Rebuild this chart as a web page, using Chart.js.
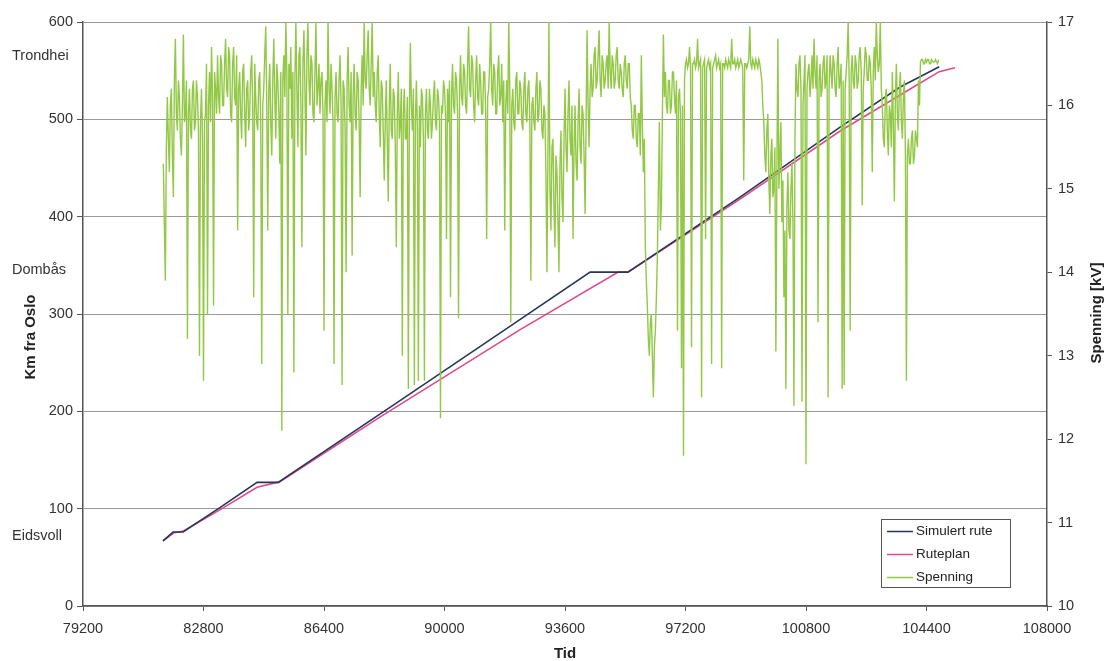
<!DOCTYPE html>
<html>
<head>
<meta charset="utf-8">
<script src="https://cdn.jsdelivr.net/npm/chart.js@4.4.1/dist/chart.umd.min.js"></script>
<style>
  html, body { margin: 0; padding: 0; background: #fff; }
  #wrap { width: 1107px; height: 661px; }
</style>
</head>
<body>
<div id="wrap"><canvas id="rute"></canvas></div>
<script>
// Tid (s) og km fra Oslo
const simulertRute = [
  [81590, 67], [81890, 76], [82190, 76], [83290, 101], [84400, 127], [85030, 127],
  [88670, 211], [91810, 284], [94350, 343], [95480, 343], [98830, 420],
  [101820, 492], [103600, 533], [104780, 554]
];
const ruteplan = [
  [81590, 67], [81900, 75], [82200, 77], [83300, 99], [84400, 122], [85000, 127],
  [85050, 127], [88070, 194], [92260, 284], [95190, 343], [95480, 343],
  [98830, 418], [101820, 488], [104000, 533], [104780, 549], [105250, 553]
];
// Tid (s) og spenning (kV)
const spenning = [
  [81600,15.3],[81630,14.6],[81660,13.9],[81690,15.5],[81720,16.1],[81750,15.6],[81780,15.2],[81810,16.0],[81840,16.2],[81870,15.4],[81900,14.9],[81930,16.3],[81960,16.8],[81990,15.9],[82020,15.7],[82050,16.3],[82080,16.1],[82110,15.6],[82140,15.4],[82170,16.0],
  [82200,16.85],[82230,15.8],[82260,15.9],[82290,16.3],[82320,13.2],[82350,15.9],[82380,16.2],[82410,15.7],[82440,15.6],[82470,16.2],[82500,16.3],[82530,15.7],[82560,15.8],[82590,16.3],[82620,16.1],[82650,15.7],[82680,13.0],[82710,15.8],[82740,16.2],[82770,15.6],
  [82800,12.7],[82830,15.8],[82860,15.9],[82890,16.5],[82920,13.5],[82950,16.0],[82980,16.4],[83010,15.8],[83040,16.7],[83070,16.1],[83100,13.6],[83130,16.4],[83160,16.2],[83190,15.9],[83220,16.6],[83250,16.1],[83280,15.9],[83310,16.6],[83340,16.5],[83370,16.0],
  [83400,16.0],[83430,16.5],[83460,16.8],[83490,16.2],[83520,16.1],[83550,16.7],[83580,16.6],[83610,15.9],[83640,15.8],[83670,16.5],[83700,16.7],[83730,16.1],[83760,16.0],[83790,16.6],[83820,14.5],[83850,16.2],[83880,16.4],[83910,15.9],[83940,15.6],[83970,16.4],
  [84000,16.5],[84030,15.9],[84060,15.5],[84090,16.2],[84120,16.3],[84150,15.7],[84180,15.9],[84210,16.4],[84240,16.6],[84270,16.0],[84300,13.7],[84330,16.5],[84360,16.1],[84390,15.8],[84420,15.7],[84450,16.3],[84480,16.4],[84510,15.8],[84540,12.9],[84570,16.0],
  [84600,16.2],[84630,16.6],[84660,16.95],[84690,16.0],[84720,14.5],[84750,16.2],[84780,16.5],[84810,15.8],[84840,15.4],[84870,16.3],[84900,16.8],[84930,16.1],[84960,15.6],[84990,16.5],[85020,16.3],[85050,15.9],[85080,15.3],[85110,16.4],[85140,12.1],[85170,16.3],
  [85200,16.6],[85230,16.1],[85260,17.0],[85290,16.4],[85320,13.5],[85350,16.5],[85380,16.2],[85410,16.7],[85440,15.6],[85470,16.4],[85500,12.8],[85530,16.3],[85560,17.0],[85590,16.2],[85620,15.5],[85650,16.6],[85680,16.7],[85710,16.0],[85740,14.3],[85770,16.5],
  [85800,16.9],[85830,16.2],[85860,15.4],[85890,16.6],[85920,17.0],[85950,16.3],[85980,16.0],[86010,16.6],[86040,16.5],[86070,15.9],[86100,15.8],[86130,16.4],[86160,17.0],[86190,16.0],[86220,16.2],[86250,16.5],[86280,15.9],[86310,16.3],[86340,16.4],[86370,15.9],
  [86400,13.3],[86430,16.0],[86460,16.3],[86490,15.8],[86520,17.0],[86550,16.2],[86580,15.9],[86610,16.5],[86640,16.2],[86670,15.8],[86700,12.9],[86730,16.1],[86760,16.4],[86790,15.9],[86820,15.8],[86850,16.3],[86880,16.6],[86910,16.0],[86940,12.65],[86970,16.3],
  [87000,16.2],[87030,15.7],[87060,14.0],[87090,16.3],[87120,16.7],[87150,16.0],[87180,15.8],[87210,16.4],[87240,14.2],[87270,16.1],[87300,16.5],[87330,15.9],[87360,15.7],[87390,16.4],[87420,16.3],[87450,15.8],[87480,14.9],[87510,16.2],[87540,16.6],[87570,16.0],
  [87600,17.0],[87630,16.3],[87660,16.2],[87690,16.6],[87720,16.9],[87750,16.2],[87780,16.0],[87810,16.5],[87840,17.0],[87870,16.1],[87900,16.4],[87930,16.0],[87960,15.8],[87990,16.4],[88020,16.6],[88050,15.9],[88080,15.5],[88110,16.3],[88140,16.2],[88170,15.7],
  [88200,15.1],[88230,15.8],[88260,16.3],[88290,15.6],[88320,14.85],[88350,16.0],[88380,16.5],[88410,15.7],[88440,15.6],[88470,16.2],[88500,16.1],[88530,15.5],[88560,14.3],[88590,15.9],[88620,16.4],[88650,15.6],[88680,15.8],[88710,16.2],[88740,13.0],[88770,15.9],
  [88800,16.2],[88830,15.6],[88860,15.6],[88890,16.1],[88920,12.6],[88950,15.9],[88980,16.75],[89010,16.0],[89040,15.7],[89070,16.2],[89100,12.65],[89130,15.8],[89160,16.3],[89190,15.7],[89220,12.7],[89250,16.0],[89280,15.5],[89310,16.2],[89340,16.1],[89370,15.6],
  [89400,12.7],[89430,15.9],[89460,16.2],[89490,15.7],[89520,15.6],[89550,16.2],[89580,16.0],[89610,15.6],[89640,15.8],[89670,16.1],[89700,16.3],[89730,15.8],[89760,15.7],[89790,16.2],[89820,16.1],[89850,15.8],[89880,12.25],[89910,16.0],[89940,15.9],[89970,16.3],
  [90000,16.2],[90030,15.9],[90060,14.4],[90090,16.2],[90120,15.8],[90150,16.3],[90180,13.7],[90210,16.1],[90240,16.5],[90270,16.0],[90300,15.9],[90330,16.4],[90360,16.3],[90390,15.9],[90420,13.45],[90450,16.2],[90480,16.6],[90510,16.1],[90540,16.0],[90570,16.5],
  [90600,16.4],[90630,16.0],[90660,15.9],[90690,16.5],[90720,16.95],[90750,16.2],[90780,16.1],[90810,16.6],[90840,16.5],[90870,16.0],[90900,15.8],[90930,16.3],[90960,16.6],[90990,16.1],[91020,16.0],[91050,16.5],[91080,16.3],[91110,15.9],[91140,15.9],[91170,16.4],
  [91200,16.4],[91230,15.9],[91260,14.4],[91290,16.1],[91320,16.2],[91350,16.5],[91380,17.0],[91410,16.2],[91440,16.0],[91470,16.5],[91500,16.4],[91530,15.9],[91560,15.9],[91590,16.4],[91620,16.6],[91650,16.0],[91680,16.1],[91710,16.5],[91740,15.8],[91770,16.3],
  [91800,14.5],[91830,16.0],[91860,16.3],[91890,15.9],[91920,17.0],[91950,16.2],[91980,13.4],[92010,16.0],[92040,16.2],[92070,15.8],[92100,15.7],[92130,16.3],[92160,16.4],[92190,15.9],[92220,15.9],[92250,16.3],[92280,16.2],[92310,15.8],[92340,15.7],[92370,16.2],
  [92400,16.4],[92430,15.9],[92460,15.8],[92490,16.2],[92520,16.3],[92550,15.8],[92580,13.9],[92610,16.0],[92640,16.1],[92670,15.8],[92700,15.7],[92730,16.2],[92760,16.4],[92790,15.8],[92820,15.9],[92850,16.3],[92880,16.2],[92910,15.7],[92940,15.6],[92970,16.0],
  [93000,15.9],[93030,15.2],[93060,14.0],[93090,15.4],[93120,17.0],[93150,15.0],[93180,14.5],[93210,15.5],[93240,15.6],[93270,14.8],[93300,14.3],[93330,15.4],[93360,15.2],[93390,14.6],[93420,14.0],[93450,15.3],[93480,15.7],[93510,14.9],[93540,14.6],[93570,15.6],
  [93600,16.2],[93630,15.5],[93660,15.2],[93690,15.9],[93720,16.3],[93750,15.6],[93780,15.4],[93810,16.0],[93840,14.4],[93870,15.5],[93900,16.0],[93930,15.3],[93960,15.1],[93990,15.8],[94020,16.2],[94050,15.5],[94080,15.3],[94110,16.0],[94140,15.9],[94170,15.4],
  [94200,14.7],[94230,15.8],[94260,16.9],[94290,16.0],[94320,15.5],[94350,16.2],[94380,16.5],[94410,16.1],[94440,16.2],[94470,16.6],[94500,16.7],[94530,16.2],[94560,16.3],[94590,16.6],[94620,16.9],[94650,16.3],[94680,16.1],[94710,16.6],[94740,16.5],[94770,16.2],
  [94800,16.3],[94830,16.5],[94860,16.6],[94890,16.2],[94920,17.0],[94950,16.4],[94980,16.2],[95010,16.6],[95040,16.5],[95070,16.2],[95100,16.3],[95130,16.6],[95160,16.7],[95190,16.3],[95220,16.2],[95250,16.5],[95280,16.4],[95310,16.2],[95340,16.1],[95370,16.5],
  [95400,16.6],[95430,16.3],[95460,16.2],[95490,16.5],[95520,16.5],[95550,16.1],[95580,16.0],[95610,15.7],[95640,15.6],[95670,16.0],[95700,16.0],[95730,15.6],[95760,15.5],[95790,15.9],[95820,15.9],[95850,15.4],[95880,16.6],[95910,15.8],[95940,15.2],[95970,15.6],
  [96000,14.3],[96030,13.9],[96060,13.6],[96090,13.2],[96120,13.0],[96150,13.4],[96180,13.5],[96210,13.0],[96240,12.5],[96270,13.1],[96300,13.3],[96330,13.7],[96360,14.2],[96390,15.0],[96420,15.8],[96450,14.5],[96480,14.8],[96510,15.9],[96540,16.85],[96570,16.1],
  [96600,16.4],[96630,16.0],[96660,15.9],[96690,16.3],[96720,16.3],[96750,15.9],[96780,16.0],[96810,16.4],[96840,16.4],[96870,16.1],[96900,15.9],[96930,16.3],[96960,13.3],[96990,16.1],[97020,16.2],[97050,15.9],[97080,12.85],[97110,16.0],[97140,11.8],[97170,16.3],
  [97200,16.5],[97230,16.55],[97260,16.45],[97290,16.5],[97320,16.7],[97350,16.45],[97380,13.1],[97410,16.5],[97440,16.5],[97470,16.55],[97500,16.45],[97530,16.5],[97560,16.8],[97590,16.45],[97620,16.5],[97650,16.55],[97680,12.5],[97710,16.45],[97740,16.5],[97770,16.55],
  [97800,14.4],[97830,16.45],[97860,16.5],[97890,16.55],[97920,16.45],[97950,16.5],[97980,12.9],[98010,16.45],[98040,16.5],[98070,16.55],[98100,16.6],[98130,16.45],[98160,16.5],[98190,16.55],[98220,16.45],[98250,16.5],[98280,12.85],[98310,16.5],[98340,16.5],[98370,16.45],
  [98400,16.55],[98430,16.5],[98460,16.45],[98490,16.55],[98520,16.5],[98550,16.45],[98580,16.8],[98610,16.5],[98640,16.5],[98670,16.55],[98700,16.45],[98730,16.5],[98760,16.55],[98790,16.45],[98820,16.5],[98850,16.55],[98880,16.5],[98910,16.45],[98940,15.1],[98970,16.5],
  [99000,16.5],[99030,16.45],[99060,16.5],[99090,16.55],[99120,16.95],[99150,16.5],[99180,16.45],[99210,16.55],[99240,16.5],[99270,16.45],[99300,16.55],[99330,16.5],[99360,16.45],[99390,16.55],[99420,16.5],[99450,16.4],[99480,16.3],[99510,16.0],[99540,15.8],[99570,15.4],
  [99600,15.2],[99630,15.7],[99660,15.9],[99690,15.1],[99720,14.7],[99750,15.4],[99780,15.6],[99810,14.9],[99840,15.0],[99870,15.5],[99900,13.05],[99930,15.2],[99960,16.8],[99990,15.0],[100020,15.4],[100050,15.8],[100080,14.6],[100110,15.1],[100140,13.7],[100170,14.5],
  [100200,12.6],[100230,14.8],[100260,15.2],[100290,14.5],[100320,14.4],[100350,15.0],[100380,15.3],[100410,14.6],[100440,12.4],[100470,15.6],[100500,16.5],[100530,16.2],[100560,16.1],[100590,16.5],[100620,16.6],[100650,16.2],[100680,12.45],[100710,16.0],[100740,16.3],[100770,16.6],
  [100800,11.7],[100830,16.2],[100860,16.4],[100890,16.5],[100920,16.1],[100950,16.3],[100980,16.6],[101010,16.2],[101040,16.8],[101070,16.4],[101100,16.2],[101130,16.6],[101160,13.4],[101190,16.3],[101220,16.5],[101250,16.1],[101280,16.2],[101310,16.5],[101340,16.6],[101370,16.2],
  [101400,16.3],[101430,16.6],[101460,12.5],[101490,16.2],[101520,16.6],[101550,16.4],[101580,16.2],[101610,16.6],[101640,16.5],[101670,16.2],[101700,16.1],[101730,16.5],[101760,16.7],[101790,16.2],[101820,16.3],[101850,16.5],[101880,12.6],[101910,16.3],[101940,12.65],[101970,16.2],
  [102000,16.4],[102030,16.6],[102060,17.0],[102090,16.3],[102120,13.3],[102150,16.4],[102180,16.6],[102210,16.3],[102240,16.2],[102270,16.6],[102300,16.5],[102330,16.2],[102360,16.3],[102390,16.6],[102420,16.7],[102450,16.4],[102480,14.8],[102510,16.2],[102540,16.4],[102570,16.7],
  [102600,16.6],[102630,16.3],[102660,16.3],[102690,16.6],[102720,16.5],[102750,16.2],[102780,15.2],[102810,16.4],[102840,16.7],[102870,16.3],[102900,17.0],[102930,16.6],[102960,16.4],[102990,16.5],[103020,17.0],[103050,16.2],[103080,16.0],[103110,15.6],[103140,15.5],[103170,16.1],
  [103200,16.2],[103230,15.7],[103260,15.4],[103290,16.0],[103320,15.9],[103350,15.5],[103380,16.4],[103410,15.8],[103440,14.85],[103470,16.1],[103500,16.5],[103530,15.9],[103560,15.7],[103590,16.2],[103620,16.4],[103650,15.8],[103680,15.6],[103710,16.1],[103740,16.3],[103770,15.4],
  [103800,12.7],[103830,15.4],[103860,15.6],[103890,15.3],[103920,15.3],[103950,15.6],[103980,15.7],[104010,15.3],[104040,15.4],[104070,15.7],[104100,15.6],[104130,15.5],[104160,16.3],[104190,16.0],[104220,16.52],[104250,16.55],[104280,16.55],[104310,16.5],[104340,16.5],[104370,16.55],
  [104400,16.52],[104430,16.55],[104460,16.55],[104490,16.5],[104520,16.5],[104550,16.55],[104580,16.53],[104610,16.52],[104640,16.52],[104670,16.55],[104700,16.52],[104730,16.5],[104760,16.55]
];
const stasjoner = ["Trondhei", "Dombås", "Eidsvoll"];
const stasjonKm = [565, 345, 72];
const serieNavn = ["Simulert rute", "Ruteplan", "Spenning"];

const farger = ["#26375a", "#e04a8a", "#93c847"];
const font = "'Liberation Sans', Arial, sans-serif";

const tekstPlugin = {
    id: "tekst",
    afterDraw(chart) {
        const ctx = chart.ctx;
        const y = chart.scales.y;
        ctx.save();
        ctx.fillStyle = "#333";
        ctx.textBaseline = "middle";

        // stasjonsnavn på venstre side
        ctx.font = "14.5px " + font;
        ctx.textAlign = "left";
        stasjoner.forEach((s, i) => ctx.fillText(s, 12, y.getPixelForValue(stasjonKm[i])));

        // aksetitler
        ctx.font = "bold 15px " + font;
        ctx.textAlign = "center";
        ctx.fillStyle = "#222";
        ctx.save();
        ctx.translate(31, 337);
        ctx.rotate(-Math.PI / 2);
        ctx.fillText("Km fra Oslo", 0, 0);
        ctx.restore();
        ctx.save();
        ctx.translate(1097, 313);
        ctx.rotate(-Math.PI / 2);
        ctx.fillText("Spenning [kV]", 0, 0);
        ctx.restore();
        ctx.fillText("Tid", 565, 654);

        // forklaring
        ctx.fillStyle = "#fff";
        ctx.fillRect(881, 519, 129, 68);
        ctx.strokeStyle = "#555";
        ctx.lineWidth = 1;
        ctx.strokeRect(881.5, 519.5, 129, 68);
        ctx.font = "13.5px " + font;
        ctx.textAlign = "left";
        serieNavn.forEach((n, i) => {
            const yy = 531 + i * 23;
            ctx.strokeStyle = farger[i];
            ctx.lineWidth = 1.5;
            ctx.beginPath();
            ctx.moveTo(887, yy + 0.5);
            ctx.lineTo(913, yy + 0.5);
            ctx.stroke();
            ctx.fillStyle = "#222";
            ctx.fillText(n, 916, yy);
        });
        ctx.restore();
    }
};

new Chart(document.getElementById("rute"), {
    type: "line",
    data: {
        datasets: [
            {
                label: serieNavn[2],
                data: spenning,
                yAxisID: "y1",
                borderColor: farger[2],
                borderWidth: 1.4,
                pointRadius: 0,
                tension: 0,
                order: 0,
            },
            {
                label: serieNavn[0],
                data: simulertRute,
                yAxisID: "y",
                borderColor: farger[0],
                borderWidth: 1.6,
                pointRadius: 0,
                tension: 0,
                order: 1,
            },
            {
                label: serieNavn[1],
                data: ruteplan,
                yAxisID: "y",
                borderColor: farger[1],
                borderWidth: 1.6,
                pointRadius: 0,
                tension: 0,
                order: 2,
            },
        ]
    },
    options: {
        responsive: true,
        maintainAspectRatio: false,
        animation: false,
        layout: { padding: { top: 22, left: 0, right: 0, bottom: 0 } },
        scales: {
            x: {
                type: "linear",
                min: 79200,
                max: 108000,
                afterFit: (s) => { s.height = 55; },
                grid: { drawOnChartArea: false, drawTicks: true, tickLength: 5, tickColor: "#555" },
                border: { color: "#555", width: 1.5 },
                ticks: {
                    stepSize: 3600,
                    padding: 9,
                    maxRotation: 0,
                    callback: (v) => String(v),
                    font: { family: font, size: 14.5 },
                    color: "#333",
                },
            },
            y: {
                position: "left",
                min: 0,
                max: 600,
                afterFit: (s) => { s.width = 83; },
                grid: { color: "#999", lineWidth: 1, tickLength: 6, tickColor: "#555" },
                border: { color: "#555", width: 1.5 },
                ticks: {
                    stepSize: 100,
                    padding: 4,
                    font: { family: font, size: 14.5 },
                    color: "#333",
                },
            },
            y1: {
                position: "right",
                min: 10,
                max: 17,
                afterFit: (s) => { s.width = 60; },
                grid: { drawOnChartArea: false, tickLength: 5, tickColor: "#555" },
                border: { color: "#555", width: 1.5 },
                ticks: {
                    stepSize: 1,
                    padding: 6,
                    font: { family: font, size: 14.5 },
                    color: "#333",
                },
            },
        },
        plugins: {
            legend: { display: false },
            tooltip: { enabled: false },
        }
    },
    plugins: [tekstPlugin]
});
</script>
</body>
</html>
